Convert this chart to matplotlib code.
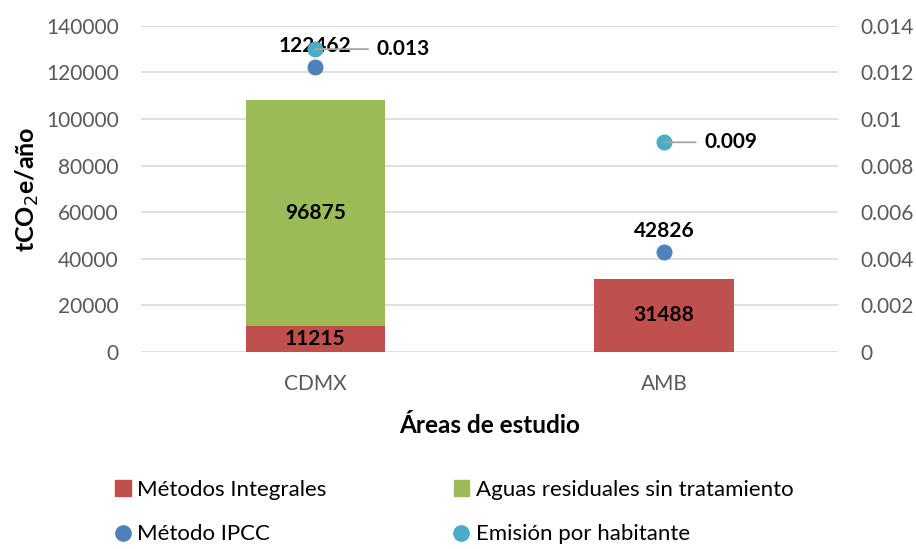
import matplotlib.pyplot as plt
from matplotlib.lines import Line2D
from matplotlib.patches import Patch

plt.rcParams['font.family'] = ['Lato', 'DejaVu Sans']

areas = ["CDMX", "AMB"]
metodos_integrales = [11215, 31488]
aguas_residuales = [96875, 0]
metodo_ipcc = [122462, 42826]
emision_hab = [0.013, 0.009]

c_red = "#C0504D"
c_green = "#9BBB59"
c_blue = "#4F81BD"
c_teal = "#4BACC6"
c_gray = "#595959"

fig = plt.figure(figsize=(9.16, 5.49), dpi=100)
ax = fig.add_axes([0.154, 0.359, 0.761, 0.594])
x = range(len(areas))

ax.bar(x, metodos_integrales, width=0.4, color=c_red, zorder=2)
ax.bar(x, aguas_residuales, width=0.4, bottom=metodos_integrales, color=c_green, zorder=2)

# bar labels
for i in x:
    ax.text(i, metodos_integrales[i] / 2, str(metodos_integrales[i]), ha="center", va="center",
            fontsize=15, fontweight="bold", color="black", zorder=3)
    if aguas_residuales[i] > 0:
        ax.text(i, metodos_integrales[i] + aguas_residuales[i] / 2, str(aguas_residuales[i]),
                ha="center", va="center", fontsize=15, fontweight="bold", zorder=3)

ax.scatter(x, metodo_ipcc, s=110, color=c_blue, zorder=4)
for i in x:
    ax.annotate(str(metodo_ipcc[i]), (i, metodo_ipcc[i]), xytext=(0, 8), textcoords="offset points",
                ha="center", va="bottom", fontsize=15, fontweight="bold", zorder=3)

ax.set_xlim(-0.5, 1.5)
ax.set_ylim(0, 140000)
ax.set_yticks(range(0, 140001, 20000))
ax.set_xticks(list(x))
ax.set_xticklabels(areas)
ax.grid(axis="y", color="#D9D9D9", linewidth=1.2, zorder=0)
ax.set_axisbelow(True)
for s in ax.spines.values():
    s.set_visible(False)
ax.tick_params(length=0, labelsize=15, labelcolor=c_gray)
ax.tick_params(axis="x", pad=16)
ax.tick_params(axis="y", pad=16)
ax.set_xlabel("Áreas de estudio", fontsize=17.5, fontweight="bold", labelpad=14)
ax.set_ylabel("tCO$_2$e/año", fontsize=18, fontweight="bold", labelpad=4)

ax2 = ax.twinx()
ax2.set_ylim(0, 0.014)
ax2.set_yticks([0, 0.002, 0.004, 0.006, 0.008, 0.01, 0.012, 0.014])
ax2.set_yticklabels(["0", "0.002", "0.004", "0.006", "0.008", "0.01", "0.012", "0.014"])
for s in ax2.spines.values():
    s.set_visible(False)
ax2.tick_params(length=0, labelsize=15, labelcolor=c_gray, pad=16)
ax2.scatter(x, emision_hab, s=110, color=c_teal, zorder=4)
offsets = [44, 29]
for i in x:
    ax2.annotate(str(emision_hab[i]), (i, emision_hab[i]), xytext=(offsets[i], 0), textcoords="offset points",
                 ha="left", va="center", fontsize=15, fontweight="bold", zorder=5,
                 arrowprops=dict(arrowstyle="-", color="#A6A6A6", lw=1.3, shrinkA=4, shrinkB=0))

handles = [Patch(color=c_red), Line2D([], [], marker="o", ls="", color=c_blue, markersize=11),
           Patch(color=c_green), Line2D([], [], marker="o", ls="", color=c_teal, markersize=11)]
labels = ["Métodos Integrales", "Método IPCC", "Aguas residuales sin tratamiento", "Emisión por habitante"]
fig.legend(handles, labels, ncol=2, loc="lower left", bbox_to_anchor=(0.104, -0.028), frameon=False,
           fontsize=16, handlelength=0.7, handleheight=0.7, handletextpad=0.3, columnspacing=5.7,
           labelspacing=1.1)

fig.savefig("out.png", dpi=100)
